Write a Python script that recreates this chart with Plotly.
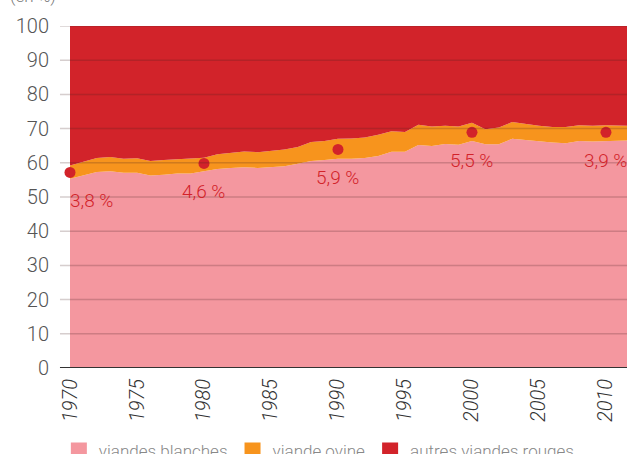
import plotly.graph_objects as go

years = list(range(1970, 2013))
# cumulative tops (in %)
viandes_blanches = [55.3, 56.3, 57.3, 57.5, 57.1, 57.1, 56.3, 56.5, 56.9, 56.9,
                    57.6, 58.2, 58.5, 58.7, 58.5, 58.7, 59.0, 59.7, 60.5, 60.8,
                    61.2, 61.2, 61.4, 62.0, 63.2, 63.2, 65.2, 64.9, 65.5, 65.3,
                    66.4, 65.4, 65.4, 67.0, 66.6, 66.1, 65.9, 65.7, 66.4, 66.2,
                    66.4, 66.6, 66.6]
viande_ovine = [3.9, 4.0, 4.1, 4.2, 4.1, 4.2, 4.2, 4.3, 4.2, 4.3,
                3.9, 4.3, 4.4, 4.6, 4.6, 4.7, 4.9, 4.9, 5.6, 5.6,
                5.8, 5.9, 6.0, 6.2, 6.0, 5.8, 5.9, 5.7, 5.3, 5.3,
                5.3, 4.4, 4.9, 4.9, 4.7, 4.7, 4.6, 4.8, 4.6, 4.6,
                4.6, 4.2, 4.2]
label_years = [1970, 1980, 1990, 2000, 2010]
label_values = [57.2, 59.8, 63.9, 68.9, 68.9]
label_texts = ["3,8 %", "4,6 %", "5,9 %", "5,5 %", "3,9 %"]
label_anchor = ["left", "center", "center", "center", "center"]
series_names = ["viandes blanches", "viande ovine", "autres viandes rouges"]
colors = ["#f4979f", "#f7941d", "#d2232a"]
x_ticks = list(range(1970, 2011, 5))
y_ticks = list(range(0, 101, 10))

ovine_top = [b + o for b, o in zip(viandes_blanches, viande_ovine)]
total = [100] * len(years)

fig = go.Figure()
fig.add_trace(go.Scatter(x=years, y=viandes_blanches, fill="tozeroy", mode="lines",
                         line=dict(width=0), fillcolor=colors[0], showlegend=False,
                         hoverinfo="skip"))
fig.add_trace(go.Scatter(x=years, y=ovine_top, fill="tonexty", mode="lines",
                         line=dict(width=0), fillcolor=colors[1], showlegend=False,
                         hoverinfo="skip"))
fig.add_trace(go.Scatter(x=years, y=total, fill="tonexty", mode="lines",
                         line=dict(width=0), fillcolor=colors[2], showlegend=False,
                         hoverinfo="skip"))
fig.add_trace(go.Scatter(x=label_years, y=label_values, mode="markers",
                         marker=dict(size=11, color=colors[2]), showlegend=False,
                         cliponaxis=False))
for name, c in zip(series_names, colors):
    fig.add_trace(go.Scatter(x=[None], y=[None], mode="markers", name=name,
                             marker=dict(symbol="square", size=17, color=c)))

for yr, v, t, a in zip(label_years, label_values, label_texts, label_anchor):
    fig.add_annotation(x=yr, y=v, text=t, showarrow=False, xanchor=a,
                       yanchor="middle", yshift=-28, xshift=-2 if a == "left" else 0,
                       font=dict(size=19, color=colors[2], family="Roboto", weight=300))

for v in y_ticks:
    fig.add_shape(type="line", xref="x domain", yref="y", x0=-0.018, x1=1, y0=v, y1=v,
                  layer="above",
                  line=dict(color="#333333" if v == 0 else "rgba(70,30,30,0.22)",
                            width=2 if v == 0 else 1.5))

fig.add_annotation(xref="paper", yref="paper", x=0, y=1, xshift=-62, yshift=18,
                   xanchor="left", yanchor="bottom", text="(en %)", showarrow=False,
                   font=dict(size=17, color="#777777", family="Roboto", weight=300))

fig.update_layout(
    width=627, height=454,
    margin=dict(l=70, r=0, t=26, b=86, autoexpand=False),
    plot_bgcolor="white", paper_bgcolor="white",
    font=dict(family="Roboto", color="#555555"),
    xaxis=dict(range=[1970, 2011.57], tickvals=x_ticks, tickangle=-90, automargin=False,
               showgrid=False, zeroline=False, showline=False, ticks="",
               ticklabelstandoff=6,
               tickfont=dict(size=20, color="#333333", family="Roboto", style="italic", weight=300)),
    yaxis=dict(range=[0, 100], tickvals=y_ticks, showgrid=False, zeroline=False,
               ticks="", ticklabelstandoff=20, automargin=False,
               tickfont=dict(size=20, color="#555555", family="Roboto", weight=300)),
    legend=dict(orientation="h", x=-0.02, xanchor="left", y=-0.19, yanchor="top",
                traceorder="normal",
                font=dict(size=17, color="#888888", family="Roboto", weight=300),
                itemwidth=30, tracegroupgap=0),
    showlegend=True,
)

post = (
    "document.documentElement.style.margin='0';"
    "document.documentElement.style.padding='0';"
    "document.body.style.margin='0';"
    "document.body.style.padding='0';"
    "document.body.style.overflow='hidden';"
)
fig.write_html("out.html", config={"displayModeBar": False, "responsive": False},
               post_script=post)
